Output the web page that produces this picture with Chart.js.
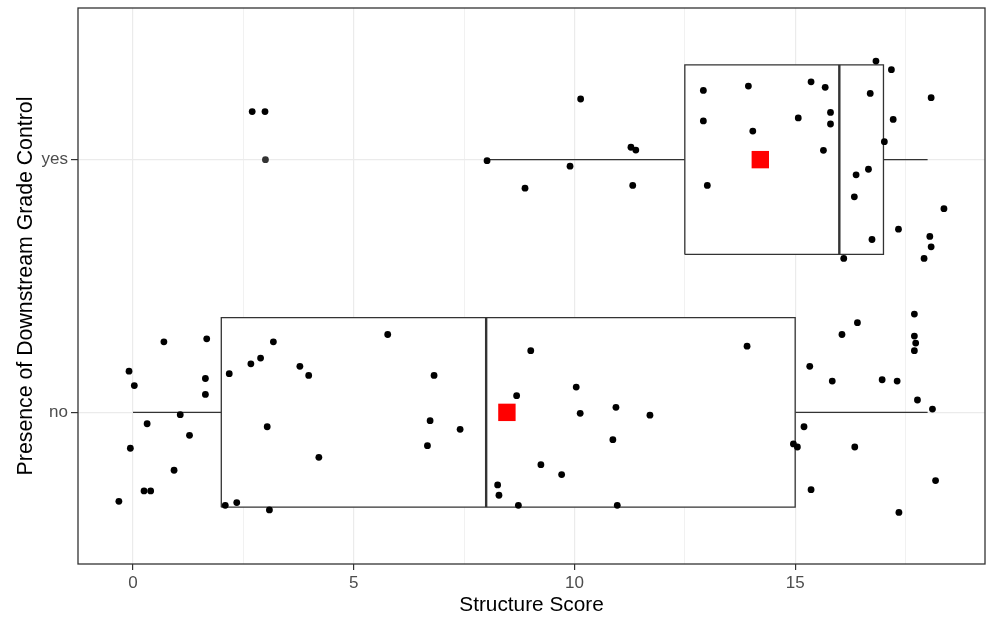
<!DOCTYPE html>
<html>
<head>
<meta charset="utf-8">
<script src="https://cdn.jsdelivr.net/npm/chart.js@4/dist/chart.umd.min.js"></script>
<style>
  html, body { margin: 0; padding: 0; background: #ffffff; }
  #wrap { width: 991px; height: 619px; position: relative; }
</style>
</head>
<body>
<div id="wrap"><canvas id="c"></canvas></div>
<script>
// ---------- data ----------
const categories = ['no', 'yes'];
const categoryPos = [1, 2];

const xTickValues = [0, 2.5, 5, 7.5, 10, 12.5, 15, 17.5];
const xTickLabels = ['0', '', '5', '', '10', '', '15', ''];

// box-plot statistics per category (no, yes)
const whiskerLow  = [0, 8];
const q1          = [2, 12.5];
const median      = [8, 16];
const q3          = [15, 17];
const whiskerHigh = [18, 18];
const meanScore   = [8.47, 14.21];

// outliers drawn by the box plot
const outlierScore = [3.0];
const outlierCat   = ['yes'];

// jittered raw points, group "no": score and vertical jitter offset
const noScore = [-0.32, -0.09, 0.03, -0.06, 0.32, 0.25, 0.40, 0.70, 1.07, 0.93, 1.28, 1.67, 1.64, 1.64,
  2.18, 2.09, 2.35, 2.67, 2.89, 3.18, 3.04, 3.09, 3.78, 3.98, 4.21, 5.77, 6.82, 6.73, 6.67, 7.41,
  8.26, 8.29, 8.69, 9.01, 8.73, 9.24, 9.71, 10.04, 10.13, 10.94, 10.87, 10.97, 11.71, 13.91,
  14.96, 15.05, 15.20, 15.33, 15.36, 15.84, 16.06, 16.41, 16.35, 16.97, 17.31, 17.35,
  17.70, 17.70, 17.73, 17.70, 17.77, 18.11, 18.18];
const noJitter = [-0.352, 0.163, 0.106, -0.142, -0.045, -0.311, -0.311, 0.279, -0.009, -0.229, -0.091, 0.291, 0.134, 0.071,
  0.153, -0.368, -0.357, 0.192, 0.215, 0.279, -0.057, -0.386, 0.182, 0.146, -0.178, 0.308, 0.146, -0.033, -0.132, -0.067,
  -0.287, -0.328, 0.066, 0.244, -0.368, -0.207, -0.246, 0.100, -0.004, 0.020, -0.108, -0.368, -0.011, 0.262,
  -0.125, -0.137, -0.057, 0.182, -0.306, 0.124, 0.308, 0.355, -0.137, 0.129, 0.124, -0.396,
  0.389, 0.302, 0.274, 0.244, 0.049, 0.013, -0.270];

// jittered raw points, group "yes"
const yesScore = [2.70, 2.99, 8.02, 10.14, 9.90, 8.88, 11.28, 11.39, 11.32, 12.92, 12.92, 13.01,
  13.94, 14.04, 15.07, 15.36, 15.68, 15.80, 15.80, 15.64, 16.10, 16.83, 17.18, 16.70, 17.22,
  17.02, 16.66, 16.38, 16.34, 16.74, 18.08, 18.37, 17.34, 18.05, 18.08, 17.92];
const yesJitter = [0.190, 0.190, -0.004, 0.240, -0.026, -0.113, 0.049, 0.038, -0.102, 0.274, 0.153, -0.102,
  0.291, 0.113, 0.165, 0.308, 0.286, 0.187, 0.141, 0.037, -0.391, 0.390, 0.356, 0.262, 0.159,
  0.071, -0.038, -0.060, -0.147, -0.316, 0.245, -0.194, -0.275, -0.304, -0.345, -0.391];

// ---------- build datasets ----------
const BOX_HALF = 0.375;
const LINE_COL = '#333333';
const boxDatasets = [];
categories.forEach((cat, i) => {
  const c = categoryPos[i];
  boxDatasets.push({
    type: 'line', label: cat + ' box',
    data: [
      {x: q1[i], y: c - BOX_HALF}, {x: q3[i], y: c - BOX_HALF},
      {x: q3[i], y: c + BOX_HALF}, {x: q1[i], y: c + BOX_HALF},
      {x: q1[i], y: c - BOX_HALF}
    ],
    borderColor: LINE_COL, borderWidth: 1.3, backgroundColor: '#ffffff',
    fill: 'shape', pointRadius: 0, tension: 0, order: 6
  });
  boxDatasets.push({
    type: 'line', label: cat + ' whisker low',
    data: [{x: whiskerLow[i], y: c}, {x: q1[i], y: c}],
    borderColor: LINE_COL, borderWidth: 1.3, fill: false, pointRadius: 0, order: 6
  });
  boxDatasets.push({
    type: 'line', label: cat + ' whisker high',
    data: [{x: q3[i], y: c}, {x: whiskerHigh[i], y: c}],
    borderColor: LINE_COL, borderWidth: 1.3, fill: false, pointRadius: 0, order: 6
  });
  boxDatasets.push({
    type: 'line', label: cat + ' median',
    data: [{x: median[i], y: c - BOX_HALF}, {x: median[i], y: c + BOX_HALF}],
    borderColor: LINE_COL, borderWidth: 2.4, fill: false, pointRadius: 0, order: 5
  });
});

const outlierData = outlierScore.map((s, k) => ({x: s, y: categoryPos[categories.indexOf(outlierCat[k])]}));
const noData  = noScore.map((s, k) => ({x: s, y: categoryPos[0] + noJitter[k]}));
const yesData = yesScore.map((s, k) => ({x: s, y: categoryPos[1] + yesJitter[k]}));
const meanData = meanScore.map((m, i) => ({x: m, y: categoryPos[i]}));

const datasets = boxDatasets.concat([
  { type: 'scatter', label: 'outliers', data: outlierData, backgroundColor: LINE_COL, borderWidth: 0,
    pointRadius: 3.4, pointHoverRadius: 3.4, order: 4 },
  { type: 'scatter', label: 'no', data: noData, backgroundColor: '#000000', borderWidth: 0,
    pointRadius: 3.4, pointHoverRadius: 3.4, order: 3 },
  { type: 'scatter', label: 'yes', data: yesData, backgroundColor: '#000000', borderWidth: 0,
    pointRadius: 3.4, pointHoverRadius: 3.4, order: 3 },
  { type: 'scatter', label: 'mean', data: meanData, backgroundColor: '#FF0000', borderWidth: 0,
    pointStyle: 'rect', pointRadius: 12.3, pointHoverRadius: 12.3, order: 1 }
]);

const panelBorder = {
  id: 'panelBorder',
  afterDatasetsDraw(chart) {
    const a = chart.chartArea, ctx = chart.ctx;
    ctx.save();
    ctx.strokeStyle = LINE_COL;
    ctx.lineWidth = 1.3;
    ctx.strokeRect(a.left, a.top, a.right - a.left, a.bottom - a.top);
    ctx.restore();
  }
};

function zeroPad(scale) {
  scale.paddingTop = 0; scale.paddingBottom = 0; scale.paddingLeft = 0; scale.paddingRight = 0;
}

const FONT = 'Liberation Sans, Arial, sans-serif';

new Chart(document.getElementById('c'), {
  type: 'scatter',
  data: { datasets },
  options: {
    responsive: true, maintainAspectRatio: false, animation: false,
    events: [],
    layout: { autoPadding: false, padding: { left: 0, top: 8, right: 6, bottom: 0 } },
    plugins: { legend: { display: false }, tooltip: { enabled: false } },
    scales: {
      x: {
        type: 'linear', min: -1.246, max: 19.30,
        afterBuildTicks(scale) { scale.ticks = xTickValues.map(v => ({ value: v })); },
        afterFit(scale) { scale.height = 55; zeroPad(scale); },
        ticks: {
          autoSkip: false, maxRotation: 0, padding: 3,
          color: '#4D4D4D', font: { family: FONT, size: 17 },
          callback(value) { const k = xTickValues.indexOf(value); return k >= 0 ? xTickLabels[k] : ''; }
        },
        grid: {
          color: '#EBEBEB',
          lineWidth: ctx => (ctx.tick && xTickLabels[xTickValues.indexOf(ctx.tick.value)] !== '') ? 1.2 : 0.7,
          tickColor: ctx => (ctx.tick && xTickLabels[xTickValues.indexOf(ctx.tick.value)] !== '') ? LINE_COL : 'rgba(0,0,0,0)',
          tickLength: 6, tickWidth: 1.2, drawTicks: true
        },
        border: { display: false },
        title: { display: true, text: 'Structure Score', color: '#000000',
          font: { family: FONT, size: 20.8 }, padding: { top: 0, bottom: 1 } }
      },
      y: {
        type: 'linear', min: 0.4, max: 2.6,
        afterBuildTicks(scale) { scale.ticks = categoryPos.map(v => ({ value: v })); },
        afterFit(scale) { scale.width = 78; zeroPad(scale); },
        ticks: {
          autoSkip: false, padding: 3,
          color: '#4D4D4D', font: { family: FONT, size: 17 },
          callback(value) { const k = categoryPos.indexOf(value); return k >= 0 ? categories[k] : ''; }
        },
        grid: { color: '#EBEBEB', lineWidth: 1.2, tickColor: LINE_COL, tickLength: 7, tickWidth: 1.2 },
        border: { display: false },
        title: { display: true, text: 'Presence of Downstream Grade Control', color: '#000000',
          font: { family: FONT, size: 21.3 }, padding: { top: 13, bottom: 0 } }
      }
    }
  },
  plugins: [panelBorder]
});
</script>
</body>
</html>
